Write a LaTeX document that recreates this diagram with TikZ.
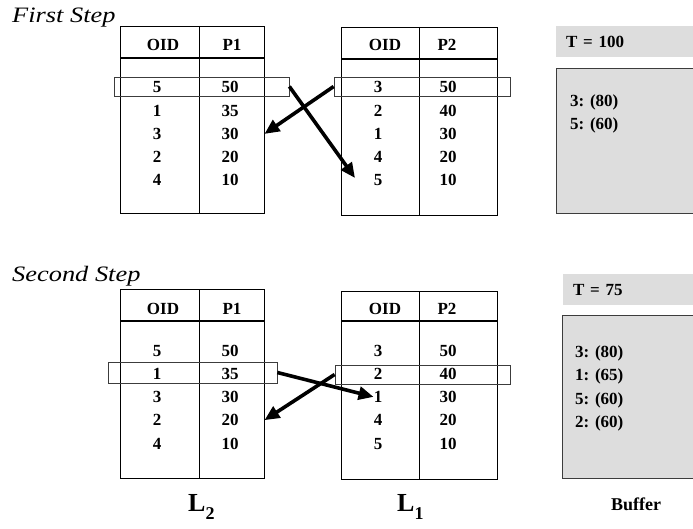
\documentclass[tikz,border=0pt]{standalone}
\usepackage{fontspec}
\setmainfont{Liberation Serif}
\usetikzlibrary{arrows.meta,positioning}
\definecolor{boxgray}{RGB}{221,221,221}
\definecolor{edgegray}{RGB}{60,60,60}

\begin{document}
\begin{tikzpicture}[x=1pt,y=-1pt,
    tbl/.style={draw=black,line width=0.9pt},
    hlrow/.style={draw=edgegray,line width=0.7pt,minimum height=19pt},
    cell/.style={anchor=base},
    buf/.style={anchor=base west},
    tbox/.style={anchor=north west,fill=boxgray,minimum width=150pt,minimum height=31pt,
                 text width=130pt,inner xsep=10pt,align=left},
    bufbox/.style={anchor=north west,fill=boxgray,draw=edgegray,line width=0.8pt,minimum width=150pt},
    steplabel/.style={anchor=base west,font=\fontsize{22}{25}\selectfont\itshape},
    listlabel/.style={anchor=base west,font=\fontsize{26}{30}\selectfont\bfseries},
    mover/.style={line width=3.6pt,-{Triangle[length=15pt,width=13pt]}}]
                \tikzstyle{every node}+=[inner sep=0pt,font=\fontsize{17}{20}\selectfont\bfseries]
                \clip (0,0) rectangle (693,529);
                % first step
                \node[steplabel] (st1) at (12,23) {\scalebox{1.2}[1]{First Step}};
                \node[tbl,minimum width=144pt,minimum height=187pt] (ta1) at (192,119.5) {};
                \draw[line width=0.9pt] (199,26) -- (199,213);
                \draw[line width=2pt] (120,58) -- (264,58);
                \node[cell] (ha1) at (163,51) {OID};
                \node[cell] (hp1) at (232,51) {P1};
                \foreach \o/\v [count=\i] in {5/50,1/35,3/30,2/20,4/10}{
                    \node[cell] (a1o\i) at (157,69.75+23.25*\i) {\o};
                    \node[cell] (a1v\i) at (230,69.75+23.25*\i) {\v};
                }
                \node[tbl,minimum width=156pt,minimum height=188pt] (tb1) at (419,121) {};
                \draw[line width=0.9pt] (419,27) -- (419,215);
                \draw[line width=2pt] (341,59) -- (497,59);
                \node[cell] (hb1) at (385,51) {OID};
                \node[cell] (hq1) at (447,51) {P2};
                \foreach \o/\v [count=\i] in {3/50,2/40,1/30,4/20,5/10}{
                    \node[cell] (b1o\i) at (378,69.75+23.25*\i) {\o};
                    \node[cell] (b1v\i) at (448,69.75+23.25*\i) {\v};
                }
                \node[hlrow,minimum width=175pt] (hla1) at (201.5,86.5) {};
                \node[hlrow,minimum width=176pt] (hlb1) at (422,86.5) {};
                \node[tbox] (t1) at (556,26) {T = 100};
                \node[bufbox,minimum height=145pt] (bf1) at (556,68) {};
                \node[buf] (e11) at (570,107) {3: (80)};
                \node[buf] (e12) at (570,130) {5: (60)};
                \coordinate (end1) at (355,178);
                \draw[mover] (hlb1.west) -- (ta1.east |- a1v3);
                \draw[mover] (hla1.east) -- (end1);
                % second step
                \node[steplabel] (st2) at (12,282) {\scalebox{1.2}[1]{Second Step}};
                \node[tbl,minimum width=144pt,minimum height=189pt] (ta2) at (192,383.5) {};
                \draw[line width=0.9pt] (199,289) -- (199,478);
                \draw[line width=2pt] (120,321) -- (264,321);
                \node[cell] (ha2) at (163,314) {OID};
                \node[cell] (hp2) at (232,314) {P1};
                \foreach \o/\v [count=\i] in {5/50,1/35,3/30,2/20,4/10}{
                    \node[cell] (a2o\i) at (157,332.75+23.25*\i) {\o};
                    \node[cell] (a2v\i) at (230,332.75+23.25*\i) {\v};
                }
                \node[tbl,minimum width=156pt,minimum height=188pt] (tb2) at (419,385) {};
                \draw[line width=0.9pt] (419,291) -- (419,479);
                \draw[line width=2pt] (341,321) -- (497,321);
                \node[cell] (hb2) at (385,314) {OID};
                \node[cell] (hq2) at (447,314) {P2};
                \foreach \o/\v [count=\i] in {3/50,2/40,1/30,4/20,5/10}{
                    \node[cell] (b2o\i) at (378,332.75+23.25*\i) {\o};
                    \node[cell] (b2v\i) at (448,332.75+23.25*\i) {\v};
                }
                \node[hlrow,minimum width=169pt,minimum height=21pt] (hla2) at (192.5,372.5) {};
                \node[hlrow,minimum width=175pt] (hlb2) at (422.5,374.5) {};
                \node[tbox] (t2) at (563,274) {T = 75};
                \node[bufbox,minimum height=163pt] (bf2) at (562,315) {};
                \node[buf] (e21) at (575,357) {3: (80)};
                \node[buf] (e22) at (575,380.5) {1: (65)};
                \node[buf] (e23) at (575,404) {5: (60)};
                \node[buf] (e24) at (575,427.5) {2: (60)};
                \draw[mover] (hla2.east) -- (b2o3.west);
                \draw[mover] (hlb2.west) -- (ta2.east |- a2v4);
                % lists and buffer
                \node[listlabel] (l2) at (188,511) {L\raisebox{-8pt}{\fontsize{18}{20}\selectfont 2}};
                \node[listlabel] (l1) at (397,511) {L\raisebox{-8pt}{\fontsize{18}{20}\selectfont 1}};
                \node[anchor=base west,font=\fontsize{18}{21}\selectfont\bfseries] (bl) at (611,510) {Buffer};
            \end{tikzpicture}
\end{document}
